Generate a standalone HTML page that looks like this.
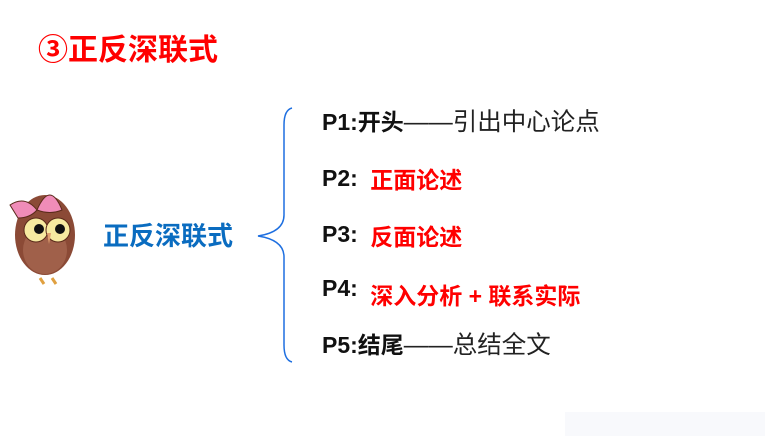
<!DOCTYPE html>
<html><head><meta charset="utf-8"><style>
body{margin:0;width:781px;height:436px;background:#fff;position:relative;overflow:hidden;font-family:"Liberation Sans","Noto Sans CJK SC",sans-serif}
.t{position:absolute;white-space:nowrap;line-height:1}
.b{font-weight:bold;color:#111;font-size:23px}
.r{color:#f00;font-weight:bold;font-size:23px}
.n{font-weight:normal;color:#222;font-size:24.5px}
</style></head><body>
<div class="t" style="left:38px;top:36px;font-size:30px;font-weight:bold;color:#f00">③正反深联式</div>
<svg style="position:absolute;left:0;top:0;overflow:hidden" width="781" height="436">
<path d="M292 108 Q284 110 284 125 L284 215 Q284 232 258 236 Q284 240 284 257 L284 345 Q284 360 292 362" fill="none" stroke="#1e6fe0" stroke-width="1.5"/>
<ellipse cx="45" cy="235" rx="30" ry="40" fill="#8b4a36"/>
<ellipse cx="45" cy="250" rx="22" ry="24" fill="#a0604a"/>
<circle cx="36" cy="230" r="12" fill="#f7eaa0" stroke="#5a2a1a"/>
<circle cx="58" cy="230" r="12" fill="#f7eaa0" stroke="#5a2a1a"/>
<circle cx="39" cy="229" r="5" fill="#111"/>
<circle cx="60" cy="229" r="5" fill="#111"/>
<path d="M47 233 L51 233 L49 244Z" fill="#e0a070"/>
<path d="M10 205 Q25 195 37 210 Q30 218 18 218Z" fill="#f08cb8" stroke="#5a2a1a"/>
<path d="M37 210 Q50 180 62 210 Q50 215 37 210Z" fill="#f08cb8" stroke="#5a2a1a"/>
<path d="M40 278 l4 6 M52 278 l4 6" stroke="#e0a040" stroke-width="3"/>
<rect x="565" y="412" width="200" height="24" fill="#f8f9fc"/>
</svg>
<div class="t" style="left:103px;top:223px;font-size:26px;font-weight:bold;color:#0a6cc0">正反深联式</div>
<div class="t b" style="left:322px;top:111px">P1:开头<span class="n">——引出中心论点</span></div>
<div class="t b" style="left:322px;top:167px">P2: <span class="r" style="margin-left:6px;position:relative;top:2px">正面论述</span></div>
<div class="t b" style="left:322px;top:223px">P3: <span class="r" style="margin-left:6px;position:relative;top:3px">反面论述</span></div>
<div class="t b" style="left:322px;top:277px">P4: <span class="r" style="margin-left:6px;position:relative;top:8px">深入分析 + 联系实际</span></div>
<div class="t b" style="left:322px;top:334px">P5:结尾<span class="n">——总结全文</span></div>
</body></html>
